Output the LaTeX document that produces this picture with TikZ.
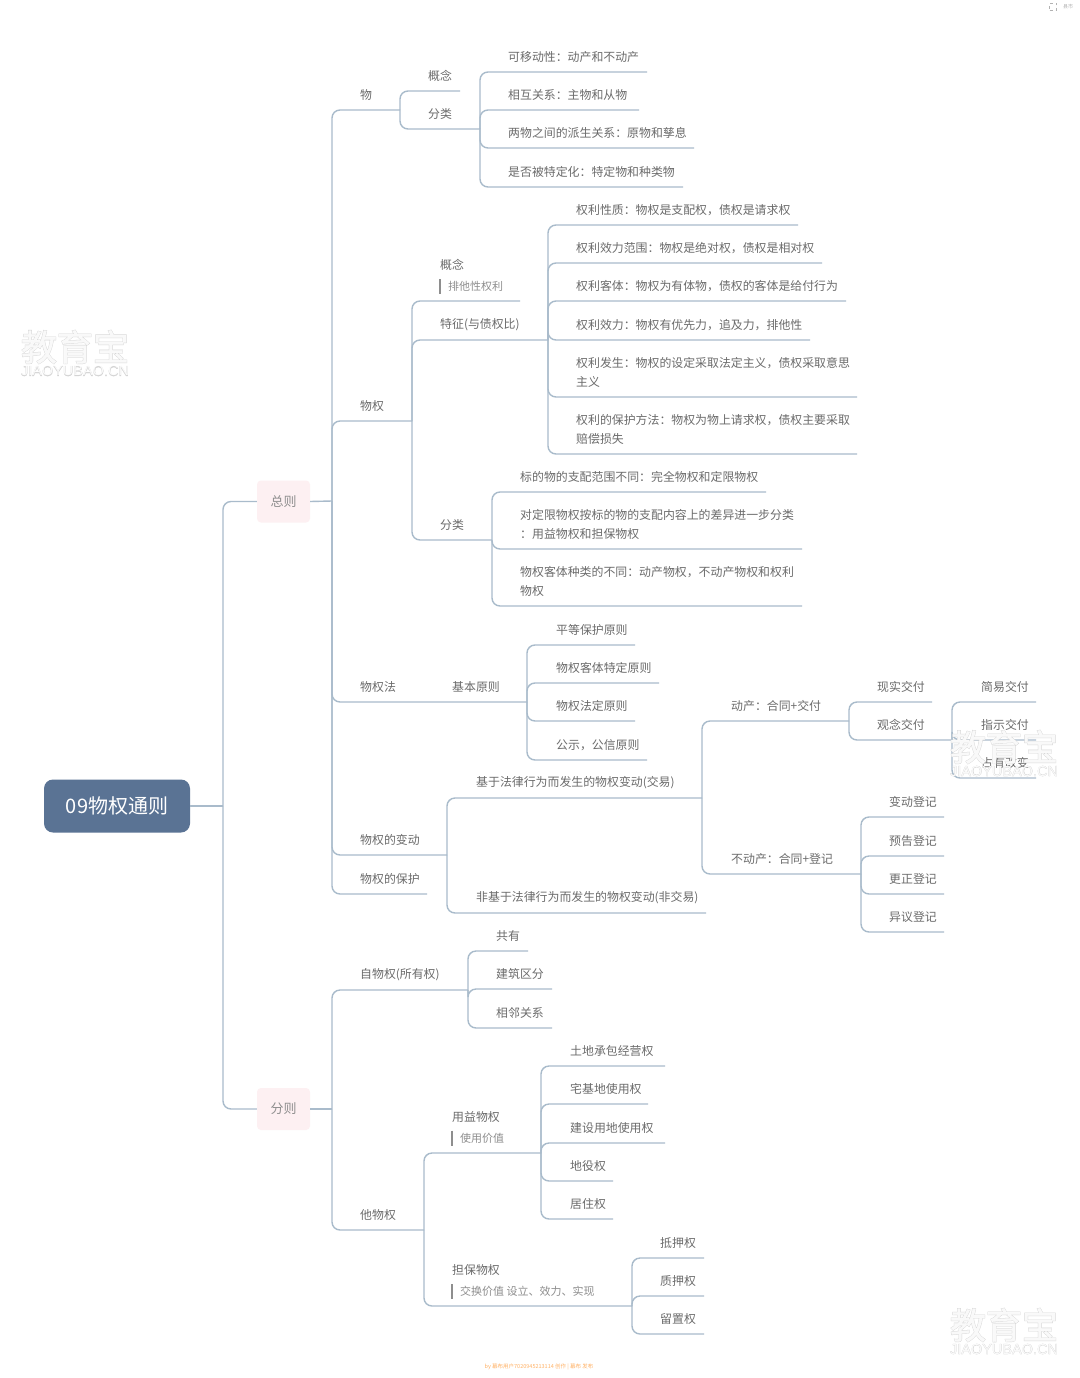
\documentclass[tikz,border=0pt]{standalone}
\usepackage{fontspec}
\setmainfont{Noto Sans CJK SC}
\newfontfamily\wmoutercjk[FakeBold=3]{Noto Sans CJK SC}
\newfontfamily\wminnercjk[FakeBold=0.6]{Noto Sans CJK SC}
\newfontfamily\wmouterlat[FakeBold=2]{Liberation Sans}
\newfontfamily\wminnerlat{Liberation Sans}
\definecolor{linec}{HTML}{A9BBCB}
\definecolor{textc}{HTML}{6B6B6B}
\definecolor{notec}{HTML}{8E8E8E}
\definecolor{rootc}{HTML}{5A7394}
\definecolor{pinkc}{HTML}{FDF0F2}
\definecolor{wmc}{HTML}{D4D4D4}
\tikzset{
  conn/.style={draw=linec,line width=1.4pt,rounded corners=8pt},
  lab/.style={anchor=west,inner sep=0pt,text=textc,align=left,font=\fontsize{11.9}{19}\selectfont},
  notelab/.style={anchor=west,inner sep=0pt,text=notec,font=\fontsize{11}{14}\selectfont},
  notebar/.style={draw=notec,line width=1.5pt},
  rootbox/.style={fill=rootc,rounded corners=9pt,text=white,minimum width=146pt,minimum height=53pt,inner sep=0pt,font=\fontsize{20}{24}\selectfont},
  mainbox/.style={fill=pinkc,rounded corners=4pt,text=notec,minimum width=53pt,minimum height=42pt,inner sep=0pt,font=\fontsize{13}{16}\selectfont},
  wmo/.style={text=wmc,inner sep=0pt,font=\fontsize{36}{38}\wmoutercjk},
  wmi/.style={text=white,inner sep=0pt,font=\fontsize{36}{38}\wminnercjk},
  wmso/.style={text=wmc,inner sep=0pt,font=\fontsize{14.5}{16}\wmouterlat},
  wmsi/.style={text=white,inner sep=0pt,font=\fontsize{14.5}{16}\wminnerlat},
}
% \mapitem[text offset]{name}{parent}{text x}{line y}{line end x}{text}
\newcommand{\mapitem}[7][15]{%
  \node[lab] (#2) at (#4,#5-#1) {#7};
  \coordinate (#2-e) at (#6,#5);
  \draw[conn] (#3-e) |- (#2-e);
}
\newcommand{\mapnote}[4]{%
  \coordinate (#1-a) at (#2,#3-7.5);
  \coordinate (#1-b) at (#2,#3+7.5);
  \draw[notebar] (#1-a) -- (#1-b);
  \node[notelab] (#1) at (#2+8,#3) {#4};
}
\newcommand{\wmark}[3]{%
  \node[wmo] (#1o) at (#2,#3) {教育宝};
  \node[wmi,opacity=.88] (#1i) at (#2,#3) {教育宝};
  \node[wmso] (#1so) at (#2,#3+24) {JIAOYUBAO.CN};
  \node[wmsi,opacity=.88] (#1si) at (#2,#3+24) {JIAOYUBAO.CN};
}
\begin{document}
\begin{tikzpicture}[x=1pt,y=-1pt]
\useasboundingbox[fill=white] (0,0) rectangle (1079,1378);

% root and main topics
\node[rootbox] (root) at (117,806) {09物权通则};
\coordinate (root-e) at (223,806);
\draw[conn] (root.east) -- (root-e);
\node[mainbox] (zong) at (283.5,501.5) {总则};
\node[mainbox] (fen) at (283.5,1109) {分则};
\draw[conn] (root-e) |- (zong.west);
\draw[conn] (root-e) |- (fen.west);
\coordinate (zong-e) at (332,501);
\coordinate (fen-e) at (332,1109);
\draw[conn] (zong.east) -- (zong-e);
\draw[conn] (fen.east) -- (fen-e);

% 物
\mapitem{wu}{zong}{360}{110}{400}{物}
\mapitem{wua}{wu}{428}{91}{460}{概念}
\mapitem{wub}{wu}{428}{129}{480}{分类}
\mapitem{wub1}{wub}{508}{72}{647}{可移动性：动产和不动产}
\mapitem{wub2}{wub}{508}{110}{639}{相互关系：主物和从物}
\mapitem{wub3}{wub}{508}{148}{694}{两物之间的派生关系：原物和孳息}
\mapitem{wub4}{wub}{508}{187}{683}{是否被特定化：特定物和种类物}

% 物权
\mapitem{wq}{zong}{360}{421}{412}{物权}
\mapitem[36]{wqa}{wq}{440}{301}{520}{概念}
\mapnote{wqan}{440}{286.5}{排他性权利}
\mapitem{wqb}{wq}{440}{340}{548}{特征(与债权比)}
\mapitem{wqc}{wq}{440}{540}{492}{分类}
\mapitem{wqb1}{wqb}{576}{225}{798}{权利性质：物权是支配权，债权是请求权}
\mapitem{wqb2}{wqb}{576}{263}{822}{权利效力范围：物权是绝对权，债权是相对权}
\mapitem{wqb3}{wqb}{576}{301}{846}{权利客体：物权为有体物，债权的客体是给付行为}
\mapitem{wqb4}{wqb}{576}{340}{810}{权利效力：物权有优先力，追及力，排他性}
\mapitem[25]{wqb5}{wqb}{576}{397}{857}{权利发生：物权的设定采取法定主义，债权采取意思\\主义}
\mapitem[25]{wqb6}{wqb}{576}{454}{857}{权利的保护方法：物权为物上请求权，债权主要采取\\赔偿损失}
\mapitem{wqc1}{wqc}{520}{492}{766}{标的物的支配范围不同：完全物权和定限物权}
\mapitem[25]{wqc2}{wqc}{520}{549}{802}{对定限物权按标的物的支配内容上的差异进一步分类\\：用益物权和担保物权}
\mapitem[25]{wqc3}{wqc}{520}{606}{802}{物权客体种类的不同：动产物权，不动产物权和权利\\物权}

% 物权法
\mapitem{wqf}{zong}{360}{702}{527}{物权法}
\node[lab] (jbyz) at (452,687) {基本原则};
\mapitem{wqf1}{wqf}{556}{645}{635}{平等保护原则}
\mapitem{wqf2}{wqf}{556}{683}{659}{物权客体特定原则}
\mapitem{wqf3}{wqf}{556}{721}{635}{物权法定原则}
\mapitem{wqf4}{wqf}{556}{760}{647}{公示，公信原则}

% 物权的变动 / 保护
\mapitem{bd}{zong}{360}{855}{447}{物权的变动}
\mapitem{bh}{zong}{360}{894}{427}{物权的保护}
\mapitem{bda}{bd}{476}{798}{702}{基于法律行为而发生的物权变动(交易)}
\mapitem{bdb}{bd}{476}{913}{706}{非基于法律行为而发生的物权变动(非交易)}
\mapitem{dc}{bda}{731}{721}{849}{动产：合同+交付}
\mapitem{bdc}{bda}{731}{874}{861}{不动产：合同+登记}
\mapitem{dc1}{dc}{877}{702}{932}{现实交付}
\mapitem{dc2}{dc}{877}{740}{952}{观念交付}
\mapitem{gn1}{dc2}{981}{702}{1036}{简易交付}
\mapitem{gn2}{dc2}{981}{740}{1036}{指示交付}
\mapitem{gn3}{dc2}{981}{778}{1036}{占有改变}
\mapitem{dj1}{bdc}{889}{817}{944}{变动登记}
\mapitem{dj2}{bdc}{889}{856}{944}{预告登记}
\mapitem{dj3}{bdc}{889}{894}{944}{更正登记}
\mapitem{dj4}{bdc}{889}{932}{944}{异议登记}

% 分则
\mapitem{zw}{fen}{360}{990}{468}{自物权(所有权)}
\mapitem{zw1}{zw}{496}{951}{528}{共有}
\mapitem{zw2}{zw}{496}{989}{552}{建筑区分}
\mapitem{zw3}{zw}{496}{1028}{552}{相邻关系}
\mapitem{tw}{fen}{360}{1230}{424}{他物权}
\mapitem[36]{yy}{tw}{452}{1153}{541}{用益物权}
\mapnote{yyn}{452}{1138}{使用价值}
\mapitem[36]{db}{tw}{452}{1306}{632}{担保物权}
\mapnote{dbn}{452}{1291.5}{交换价值 设立、效力、实现}
\mapitem{yy1}{yy}{570}{1066}{665}{土地承包经营权}
\mapitem{yy2}{yy}{570}{1104}{648}{宅基地使用权}
\mapitem{yy3}{yy}{570}{1143}{665}{建设用地使用权}
\mapitem{yy4}{yy}{570}{1181}{613}{地役权}
\mapitem{yy5}{yy}{570}{1219}{613}{居住权}
\mapitem{db1}{db}{660}{1258}{704}{抵押权}
\mapitem{db2}{db}{660}{1296}{704}{质押权}
\mapitem{db3}{db}{660}{1334}{704}{留置权}

% watermarks
\wmark{wma}{75}{347}
\wmark{wmb}{1004}{747}
\wmark{wmc}{1004}{1325}

% footer and corner mark
\node[inner sep=0pt,text=orange!60,font=\fontsize{5.5}{7}\selectfont] (foot) at (539,1366.5) {by 幕布用户7020945213114 创作 | 幕布 发布};
\node[draw=black!30,line width=.8pt,dashed,minimum size=7pt,inner sep=0pt] (icon) at (1053,7) {};
\node[inner sep=0pt,text=black!30,font=\fontsize{5}{6}\selectfont] (corner) at (1068,7) {县市};
\end{tikzpicture}
\end{document}
